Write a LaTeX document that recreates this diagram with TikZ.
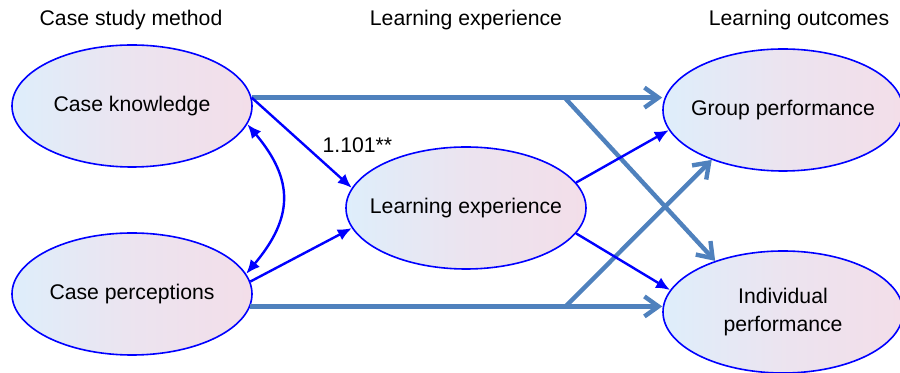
\documentclass[tikz,border=0pt]{standalone}
\usepackage{fontspec}
\setmainfont{Liberation Sans}
\usetikzlibrary{shapes.geometric,arrows.meta}
\definecolor{ovblue}{RGB}{0,0,255}
\definecolor{ovleft}{RGB}{222,238,251}
\definecolor{ovright}{RGB}{243,222,233}
\definecolor{pathblue}{RGB}{79,129,189}
\begin{document}
\begin{tikzpicture}[x=0.5pt,y=-0.5pt,
  every node/.style={font=\fontsize{10.6}{14}\selectfont},
  oval/.style={ellipse,draw=ovblue,line width=0.8pt,left color=ovleft,right color=ovright,
    middle color=ovright!65!ovleft,
    minimum width=120pt,minimum height=61pt,inner xsep=-6pt,inner ysep=0pt,align=center},
  link/.style={draw=ovblue,line width=1.2pt,-{Latex[length=7pt,width=6pt]}},
  route/.style={draw=pathblue,line width=2.2pt,-{Straight Barb[length=7pt,width=10pt]}}]
  \useasboundingbox (0,0) rectangle (900,373);
  % column titles
  \node (t1) at (131,20) {Case study method};
  \node (t2) at (466,20) {Learning experience};
  \node (t3) at (799,20) {Learning outcomes};
  % constructs
  \node[oval] (ck) at (132,106) {Case knowledge};
  \node[oval] (cp) at (132,294) {Case perceptions};
  \node[oval] (le) at (466,208) {Learning experience};
  \node[oval] (gp) at (783,110) {Group performance};
  \node[oval] (ip) at (783,312) {Individual\\performance};
  % direct paths
  \coordinate (s1) at (565,98);
  \coordinate (s2) at (565,307);
  \draw[route] (ck.4) -- (ck.4 -| gp.west);
  \draw[route] (s1) -- (ip.143);
  \draw[route] (cp.-6) -- (cp.-6 -| ip.west);
  \draw[route] (s2) -- (gp.215);
  % mediated paths
  \draw[link] (ck.4) -- node[pos=.55,right=4pt,yshift=1pt] (b1) {1.101**} (le.170);
  \draw[link] (cp.6) -- (le.190);
  \draw[link] (le.13) -- (gp.190);
  \draw[link] (le.-13) -- (ip.169);
  \draw[link,{Latex[length=7pt,width=6pt]}-{Latex[length=7pt,width=6pt]}]
    (ck.-9) to[out=-50,in=50,looseness=1.25] (cp.10);
\end{tikzpicture}
\end{document}
